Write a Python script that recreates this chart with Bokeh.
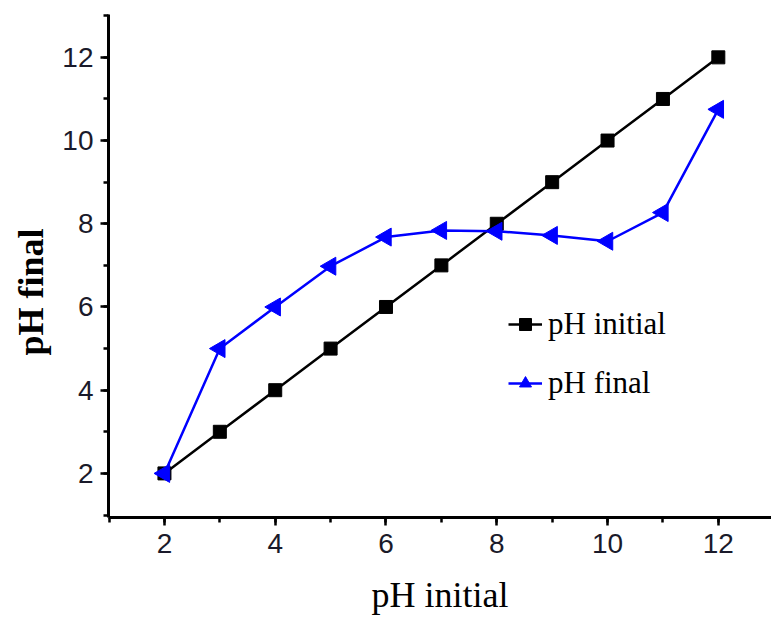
import numpy as np
from bokeh.plotting import figure
from bokeh.models import Range1d, SingleIntervalTicker, Legend, Title
from bokeh.embed import file_html
from bokeh.resources import INLINE

ph_initial_x = [2, 3, 4, 5, 6, 7, 8, 9, 10, 11, 12]
ph_initial_y = [2, 3, 4, 5, 6, 7, 8, 9, 10, 11, 12]
ph_final_y = [2.0, 5.0, 6.0, 6.98, 7.68, 7.84, 7.82, 7.72, 7.58, 8.27, 10.75]

p = figure(width=771, height=617, output_backend="svg", toolbar_location=None,
           x_range=Range1d(0.99, 12.96), y_range=Range1d(0.94, 13.03),
           min_border_left=108, min_border_right=0, min_border_top=14, min_border_bottom=100)
p.frame_width = 663
p.frame_height = 503
p.outline_line_color = None
p.grid.visible = False
p.background_fill_color = "white"
p.border_fill_color = "white"

for ax in (p.xaxis[0], p.yaxis[0]):
    ax.ticker = SingleIntervalTicker(interval=2, num_minor_ticks=2)
    ax.axis_line_width = 3
    ax.axis_line_color = "black"
    ax.major_tick_line_width = 2.5
    ax.minor_tick_line_width = 2.5
    ax.major_tick_out = 8
    ax.major_tick_in = 0
    ax.minor_tick_out = 5
    ax.minor_tick_in = 0
    ax.major_label_text_font = "Liberation Sans"
    ax.major_label_text_font_size = "28px"
    ax.major_label_text_color = "#1a1a2a"
    ax.axis_label_text_font = "Liberation Serif"
    ax.axis_label_text_font_size = "36px"
    ax.axis_label_text_color = "black"

p.xaxis.axis_label = "pH initial"
p.xaxis.axis_label_text_font_style = "normal"
p.xaxis.major_label_standoff = 8
p.xaxis.axis_label_standoff = 19
p.yaxis.major_label_standoff = 7

ytitle = Title(text="pH final", align="left", offset=162, standoff=17,
               text_font="Liberation Serif", text_font_size="36px", text_font_style="bold",
               text_color="black")
p.add_layout(ytitle, "left")

l1 = p.line(ph_initial_x, ph_initial_y, line_color="black", line_width=2.5)
m1 = p.scatter(ph_initial_x, ph_initial_y, marker="square", size=13, fill_color="black", line_color="black")
l2 = p.line(ph_initial_x, ph_final_y, line_color="#0000FF", line_width=2.5)
m2 = p.scatter(ph_initial_x, ph_final_y, marker="triangle", size=18, angle=np.pi / 2,
               fill_color="#0000FF", line_color="#0000FF")

legend = Legend(items=[("pH initial", [l1, m1]), ("pH final", [l2, m2])],
                location=(400, 116), border_line_color=None, background_fill_alpha=0,
                padding=0, margin=0, spacing=23, glyph_width=34, glyph_height=30,
                label_height=30, label_standoff=6,
                label_text_font="Liberation Serif", label_text_font_size="31px",
                label_text_color="black")
p.add_layout(legend, "center")

open("out.html", "w").write(file_html(p, INLINE))
